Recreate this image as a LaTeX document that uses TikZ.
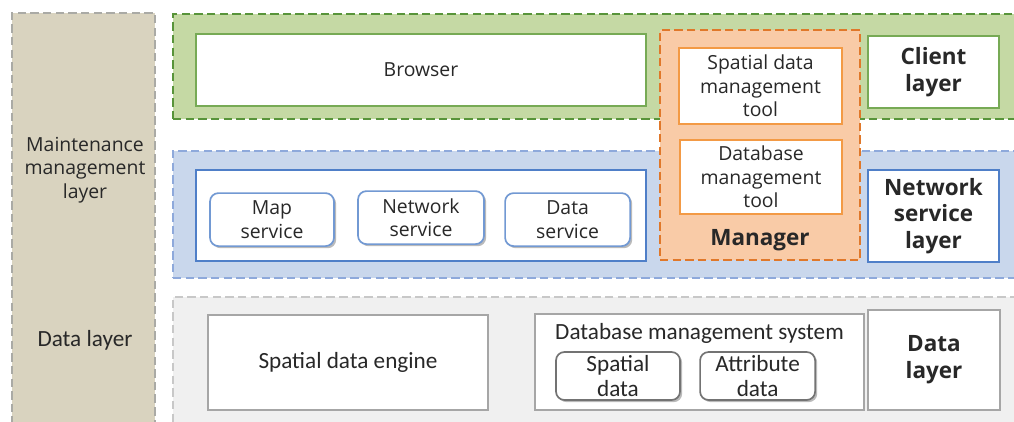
\documentclass[tikz,border=0pt]{standalone}
\usepackage{fontspec}
\setmainfont{Open Sans}
\newfontfamily\calfont{Carlito}
\usetikzlibrary{shadows}
\definecolor{tanfill}{RGB}{217,211,191}
\definecolor{tanline}{RGB}{170,170,165}
\definecolor{greenfill}{RGB}{197,217,164}
\definecolor{greenline}{RGB}{88,148,58}
\definecolor{greenbox}{RGB}{119,170,85}
\definecolor{bluefill}{RGB}{201,215,236}
\definecolor{blueline}{RGB}{142,169,219}
\definecolor{bluebox}{RGB}{79,127,200}
\definecolor{orangefill}{RGB}{249,203,167}
\definecolor{orangeline}{RGB}{224,120,42}
\definecolor{orangebox}{RGB}{243,154,69}
\definecolor{grayfill}{RGB}{240,240,240}
\definecolor{grayline}{RGB}{200,200,200}
\definecolor{graybox}{RGB}{166,166,166}
\definecolor{ink}{RGB}{40,40,40}
\tikzset{
  {layer/.style} ={rectangle, draw, line width=1.5pt,
                   dash pattern=on 6pt off 3pt, inner sep=0},
  {box/.style} ={rectangle, draw, line width=1.2pt, fill=white,
                 align=center, inner sep=0, text=ink,
                 font=\fontsize{13.8}{16.8}\selectfont},
  {service/.style} ={box, rounded corners=6pt,
                     drop shadow={shadow xshift=1.5pt, shadow yshift=-1.5pt,
                                  fill=black!45, opacity=.6}},
  {tag/.style} ={box, font=\bfseries\fontsize{16}{19}\selectfont},
  {lowbox/.style} ={box, draw=graybox, font=\calfont\fontsize{16.5}{17.5}\selectfont},
}
\begin{document}
\begin{tikzpicture}
    \clip (0,0) rectangle (25.35,-10.525);
    \fill[white] (0,0) rectangle (25.35,-10.525);
    % maintenance column
    \node[layer, draw=tanline, fill=tanfill, minimum width=3.575cm,
          minimum height=10.6cm, anchor=north] (maint) at (2.0875,-0.3) {};
    \node[align=center, text=ink, font=\fontsize{13.8}{16.8}\selectfont]
        (maintxt) at (2.125,-4.25) {Maintenance\\management\\layer};
    \node[text=ink, font=\calfont\fontsize{16.5}{17.5}\selectfont]
        (datatxt) at (2.125,-8.5) {Data layer};
    % client layer
    \node[layer, draw=greenline, fill=greenfill, minimum width=21.2cm,
          minimum height=2.625cm, anchor=north west] (client) at (4.3,-0.325) {};
    \node[box, draw=greenbox, minimum width=11.25cm, minimum height=1.8cm]
        (browser) at (10.525,-1.75) {Browser};
    \node[tag, draw=greenbox, minimum width=3.275cm, minimum height=1.8cm]
        (clienttag) at (23.3375,-1.8) {Client\\layer};
    % network service layer
    \node[layer, draw=blueline, fill=bluefill, minimum width=21.2cm,
          minimum height=3.175cm, anchor=north west] (network) at (4.3,-3.75) {};
    \node[box, draw=bluebox, minimum width=11.25cm, minimum height=2.275cm]
        (services) at (10.525,-5.3875) {};
    \node[service, draw=bluebox!80, minimum width=3.1cm, minimum height=1.325cm]
        (map) at (6.8,-5.49) {Map\\service};
    \node[service, draw=bluebox!80, minimum width=3.15cm, minimum height=1.325cm]
        (net) at (10.525,-5.44) {Network\\service};
    \node[service, draw=bluebox!80, minimum width=3.125cm, minimum height=1.325cm]
        (dataserv) at (14.19,-5.49) {Data\\service};
    \node[tag, draw=bluebox, minimum width=3.275cm, minimum height=2.3cm]
        (networktag) at (23.3375,-5.4) {Network\\service\\layer};
    % manager
    \node[layer, draw=orangeline, fill=orangefill, minimum width=5cm,
          minimum height=5.75cm] (manager) at (19,-3.625) {};
    \node[box, draw=orangebox, minimum width=4.075cm, minimum height=1.9cm]
        (spatialtool) at (19.0125,-2.15) {Spatial data\\management\\tool};
    \node[box, draw=orangebox, minimum width=4.05cm, minimum height=1.85cm]
        (dbtool) at (19.025,-4.425) {Database\\management\\tool};
    \node[text=ink, font=\bfseries\fontsize{16}{19}\selectfont]
        (managertxt) at (19,-6.0) {Manager};
    % data layer
    \node[layer, draw=grayline, fill=grayfill, minimum width=21.2cm,
          minimum height=3.4cm, anchor=north west] (datalayer) at (4.3,-7.4) {};
    \node[lowbox, minimum width=7cm, minimum height=2.375cm]
        (engine) at (8.7,-9.0625) {Spatial data engine};
    \node[lowbox, minimum width=8.225cm, minimum height=2.4cm]
        (dbms) at (17.4875,-9.05) {};
    \node[text=ink, font=\calfont\fontsize{16.5}{17.5}\selectfont, anchor=north]
        (dbmstxt) at ([yshift=-0.12cm]dbms.north) {Database management system};
    \node[lowbox, rounded corners=6pt, draw=black!55, minimum width=3.1cm,
          minimum height=1.2cm, drop shadow={shadow xshift=1.5pt,
          shadow yshift=-1.5pt, fill=black!45, opacity=.6}]
        (spatialdata) at (15.45,-9.4) {Spatial\\data};
    \node[lowbox, rounded corners=6pt, draw=black!55, minimum width=2.875cm,
          minimum height=1.2cm, drop shadow={shadow xshift=1.5pt,
          shadow yshift=-1.5pt, fill=black!45, opacity=.6}]
        (attrdata) at (18.94,-9.4) {Attribute\\data};
    \node[tag, draw=graybox, minimum width=3.3cm, minimum height=2.5cm]
        (datatag) at (23.35,-9.0) {Data\\layer};
\end{tikzpicture}
\end{document}
